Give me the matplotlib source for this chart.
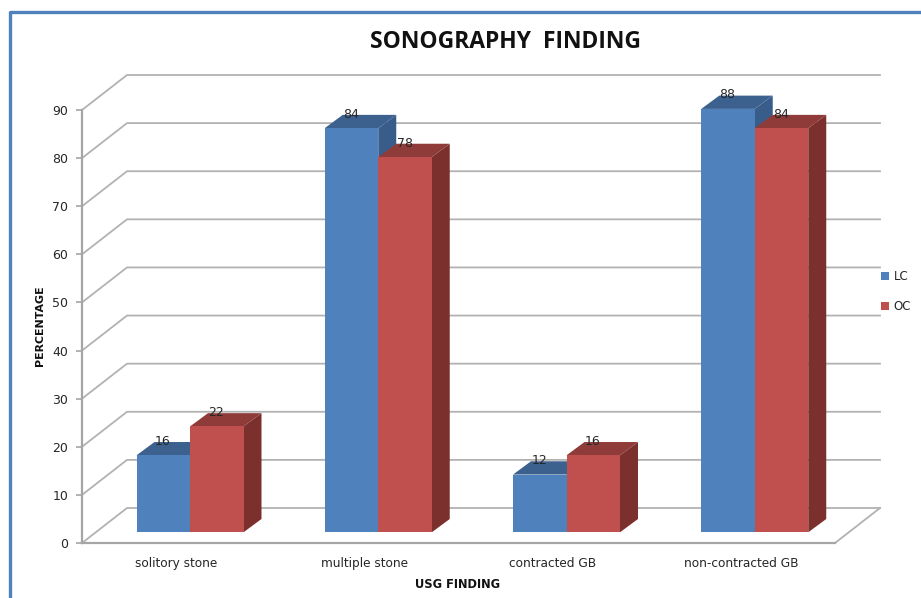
import matplotlib
matplotlib.use('Agg')
import matplotlib.pyplot as plt
from matplotlib.lines import Line2D
from matplotlib.patches import Patch, Polygon

categories = ['solitory stone', 'multiple stone', 'contracted GB', 'non-contracted GB']
lc_values = [16, 84, 12, 88]
oc_values = [22, 78, 16, 84]
y_ticks = [0, 10, 20, 30, 40, 50, 60, 70, 80, 90]

W, H = 921, 598
GRID = '#b2b2b2'
AXIS = '#a6a6a6'
TEXT = '#262626'
FONT = 'DejaVu Sans'

fig = plt.figure(figsize=(W / 100, H / 100), dpi=100, facecolor='white')

# front plane of the fake 3D box, in pixels: x 82-835, y 110-543
ax = fig.add_axes([82 / W, 1 - 543 / H, (835 - 82) / W, (543 - 110) / H])
ax.set_xlim(0, 4)
ax.set_ylim(0, 90)
ax.patch.set_visible(False)

px_x = 4 / (835 - 82)
px_y = 90 / (543 - 110)
depth_x = 45 * px_x
depth_y = 35 * px_y

# back wall gridlines and the floor
for v in y_ticks:
    ax.plot([0, depth_x, 4 + depth_x], [v, v + depth_y, v + depth_y],
            color=GRID, lw=1.3, clip_on=False, zorder=1)
ax.plot([4, 4 + depth_x], [0, depth_y], color=GRID, lw=1.3, clip_on=False, zorder=1)

for side in ['top', 'right']:
    ax.spines[side].set_visible(False)
for side in ['left', 'bottom']:
    ax.spines[side].set_color(AXIS)
    ax.spines[side].set_linewidth(1.6)

ax.set_yticks(y_ticks)
ax.set_xticks([i + 0.5 for i in range(len(categories))])
ax.set_xticklabels(categories)
ax.tick_params(axis='y', length=4, width=1.2, color=AXIS, pad=6, labelsize=9, labelcolor=TEXT)
ax.tick_params(axis='x', length=0, pad=10, labelsize=8.7, labelcolor=TEXT)
for lab in ax.get_xticklabels() + ax.get_yticklabels():
    lab.set_family(FONT)


def draw_bar(x0, width, value, front, top, side):
    """One extruded column, front face x0..x0+width starting off the floor edge."""
    y0 = 10.7 * px_y
    y1 = y0 + value
    dx = 18 * px_x
    dy = 13.3 * px_y
    x1 = x0 + width
    ax.add_patch(Polygon([(x1, y0), (x1 + dx, y0 + dy), (x1 + dx, y1 + dy), (x1, y1)],
                         fc=side, ec='none', clip_on=False, zorder=3))
    ax.add_patch(Polygon([(x0, y1), (x0 + dx, y1 + dy), (x1 + dx, y1 + dy), (x1, y1)],
                         fc=top, ec='none', clip_on=False, zorder=3))
    ax.add_patch(Polygon([(x0, y0), (x1, y0), (x1, y1), (x0, y1)],
                         fc=front, ec='none', clip_on=False, zorder=3))
    ax.text(x0 + width / 2 - 0.5 * px_x, y1 + 14 * px_y, str(value), ha='center', va='center',
            fontsize=9, color=TEXT, family=FONT, zorder=5)


bar_w = 53.5 * px_x
for i in range(len(categories)):
    mid = i + 108 * px_x
    draw_bar(mid - bar_w, bar_w, lc_values[i], '#4f81bd', '#3c618f', '#385d8a')
    draw_bar(mid, bar_w, oc_values[i], '#c0504d', '#8e3b39', '#7b302e')

fig.text(505 / W, 1 - 41.5 / H, 'SONOGRAPHY  FINDING', ha='center', va='center',
         fontsize=16.5, fontweight='bold', family='Open Sans', color='#111111')
fig.text(40 / W, 1 - 325.5 / H, 'PERCENTAGE', rotation=90, ha='center', va='center',
         fontsize=7.9, fontweight='bold', family=FONT, color='#111111')
fig.text(457.5 / W, 1 - 585 / H, 'USG FINDING', ha='center', va='center',
         fontsize=8.3, fontweight='bold', family=FONT, color='#111111')

handles = [Patch(fc='#4f81bd', label='LC'), Patch(fc='#c0504d', label='OC')]
fig.legend(handles=handles, loc='center left', bbox_to_anchor=(870 / W, 1 - 291.5 / H),
           frameon=False, fontsize=8.5, handlelength=0.75, handleheight=0.75,
           handletextpad=0.35, labelspacing=1.45, labelcolor=TEXT)

# blue chart frame along the top and left edges
fig.add_artist(Line2D([10 / W, 10 / W, 1], [0, 1 - 12 / H, 1 - 12 / H], color='#4f81bd', lw=2.4))

fig.savefig('out.png', dpi=100)
